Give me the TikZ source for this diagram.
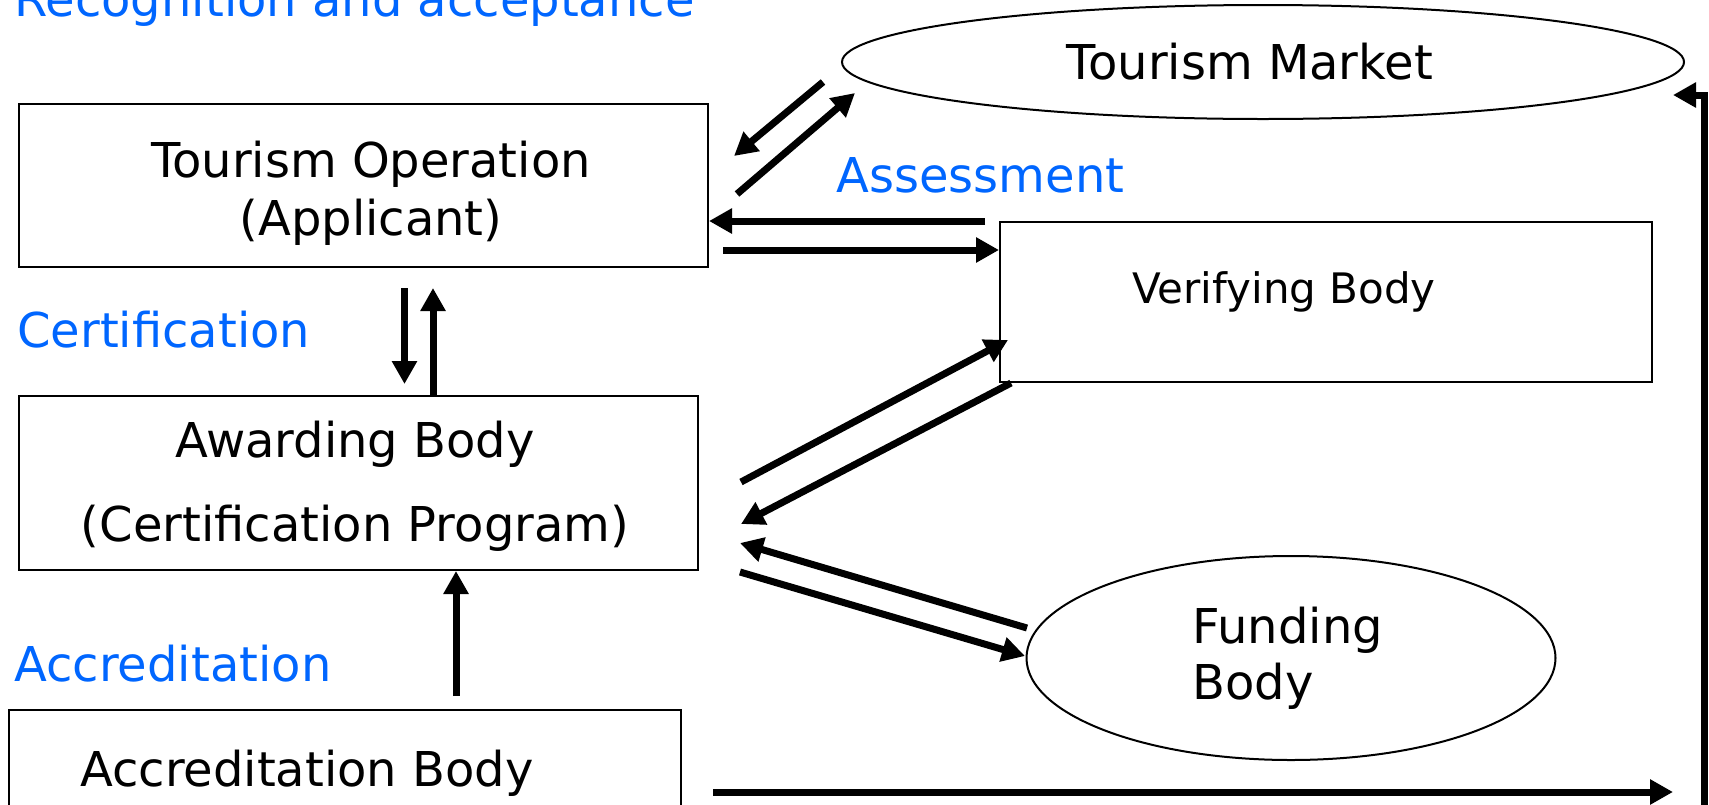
\documentclass[tikz,border=0pt]{standalone}
\usepackage{fontspec}
\setmainfont{DejaVu Sans}
\usetikzlibrary{arrows.meta,shapes.geometric,calc}
\definecolor{lblblue}{HTML}{0066FF}
\begin{document}
\begin{tikzpicture}[x=0.5pt,y=-0.5pt,
  box/.style={draw,line width=1pt,inner sep=0pt,rectangle},
  oval/.style={draw,line width=1pt,inner sep=0pt,ellipse},
  txt/.style={inner sep=0pt,font=\fontsize{24}{29}\selectfont},
  lbl/.style={txt,text=lblblue,anchor=base west},
  arr/.style={line width=3.5pt,-{Triangle[width=12pt,length=11.5pt]}}]
\useasboundingbox (0,0) rectangle (1709,804);

% boxes and ovals
\node[box,minimum width=344.5pt,minimum height=81.5pt] (op) at (363.5,185.5) {};
\node[box,minimum width=326pt,minimum height=80pt] (vb) at (1326,302) {};
\node[box,minimum width=339.5pt,minimum height=87pt] (ab) at (358.5,483) {};
\node[box,minimum width=336pt,minimum height=65pt] (acc) at (345,775) {};
\node[oval,minimum width=421pt,minimum height=57pt] (mkt) at (1263,62) {};
\node[oval,minimum width=264.5pt,minimum height=102pt] (fb) at (1291,658) {};

% texts
\node[txt,anchor=base] (opA) at (371,177) {Tourism Operation};
\node[txt,anchor=base] (opB) at (371,235) {(Applicant)};
\node[txt,anchor=base,font=\fontsize{21}{26}\selectfont] (vbT) at (1284,303) {Verifying Body};
\node[txt,anchor=base] (abA) at (355,457) {Awarding Body};
\node[txt,anchor=base] (abB) at (355,541) {(Certification Program)};
\node[txt,anchor=base] (accT) at (307,786) {Accreditation Body};
\node[txt,anchor=base] (mktT) at (1250,79) {Tourism Market};
\node[txt,anchor=base west] (fbA) at (1192,643) {Funding};
\node[txt,anchor=base west] (fbB) at (1192,699) {Body};

% blue labels
\node[lbl] (recog) at (14,16) {Recognition and acceptance};
\node[lbl] (assess) at (836,192) {Assessment};
\node[lbl] (cert) at (17,347) {Certification};
\node[lbl] (accr) at (14,681) {Accreditation};

% connector end points
\coordinate (m1s) at (823,82);
\coordinate (m1e) at (734,156);
\coordinate (m2s) at (737,194);
\coordinate (m2e) at (855,93);
\coordinate (h1s) at (985,221);
\coordinate (h2s) at (723,250);
\coordinate (c1s) at (404.5,288);
\coordinate (c1e) at (404.5,384);
\coordinate (c2e) at (433,288);
\coordinate (v1s) at (741,482);
\coordinate (v1e) at (1008,340);
\coordinate (v2s) at (1011,383);
\coordinate (v2e) at (741,524);
\coordinate (f1s) at (1027,628);
\coordinate (f1e) at (740,543);
\coordinate (f2s) at (740,572);
\coordinate (f2e) at (1025,656);
\coordinate (a1s) at (456,696);
\coordinate (b1s) at (713,792);
\coordinate (b1e) at (1673,792);
\coordinate (r0) at (1704,830);
\coordinate (r1) at (1673,95);

% connectors
\draw[arr] (m1s) -- (m1e);
\draw[arr] (m2s) -- (m2e);
\draw[arr] (h1s) -- (op.east |- h1s);
\draw[arr] (h2s) -- (vb.west |- h2s);
\draw[arr] (c1s) -- (c1e);
\draw[arr] (ab.north -| c2e) -- (c2e);
\draw[arr] (v1s) -- (v1e);
\draw[arr] (v2s) -- (v2e);
\draw[arr] (f1s) -- (f1e);
\draw[arr] (f2s) -- (f2e);
\draw[arr] (a1s) -- (ab.south -| a1s);
\draw[arr] (b1s) -- (b1e);
\draw[arr,line join=miter] (r0) |- (r1);
\end{tikzpicture}
\end{document}
